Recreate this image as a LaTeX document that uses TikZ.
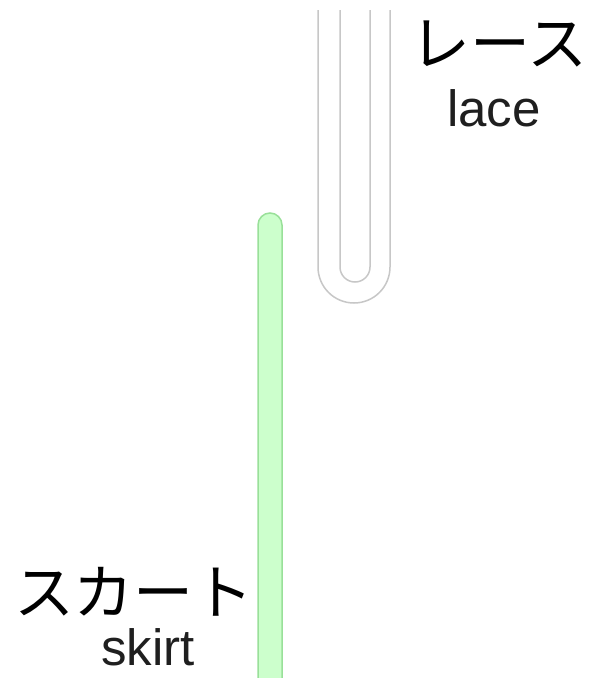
\documentclass[tikz,border=0pt]{standalone}
\usepackage{fontspec}
\setmainfont{Liberation Sans}
\newfontfamily\cjk{Noto Sans CJK JP}
\begin{document}
\begin{tikzpicture}[x=1pt,y=-1pt,
  jp/.style={font=\cjk\fontsize{60}{62}\selectfont, inner sep=0pt, text=black},
  en/.style={font=\fontsize{51}{53}\selectfont, inner sep=0pt, text=black!88},
  lacestroke/.style={draw=black!22, line width=1.5pt},
  skirtbar/.style={fill=green!20, draw=black!30!green!40, line width=1.5pt}]
\useasboundingbox[fill=white] (0,0) rectangle (609,678);
% lace
\draw[lacestroke] (318,10) -- (318,267) arc[start angle=180, end angle=0, radius=36] -- (390,10);
\draw[lacestroke] (340,10) -- (340,267) arc[start angle=180, end angle=0, radius=15] -- (370,10);
% skirt
\draw[skirtbar] (258,690) -- (258,225) arc[start angle=180, end angle=360, radius=12] -- (282,690);
% labels
\node[jp] (laceJP) at (499,44) {レース};
\node[en] (laceEN) at (494,108) {lace};
\node[jp] (skirtJP) at (134,592) {スカート};
\node[en] (skirtEN) at (148,647) {skirt};
\end{tikzpicture}
\end{document}
